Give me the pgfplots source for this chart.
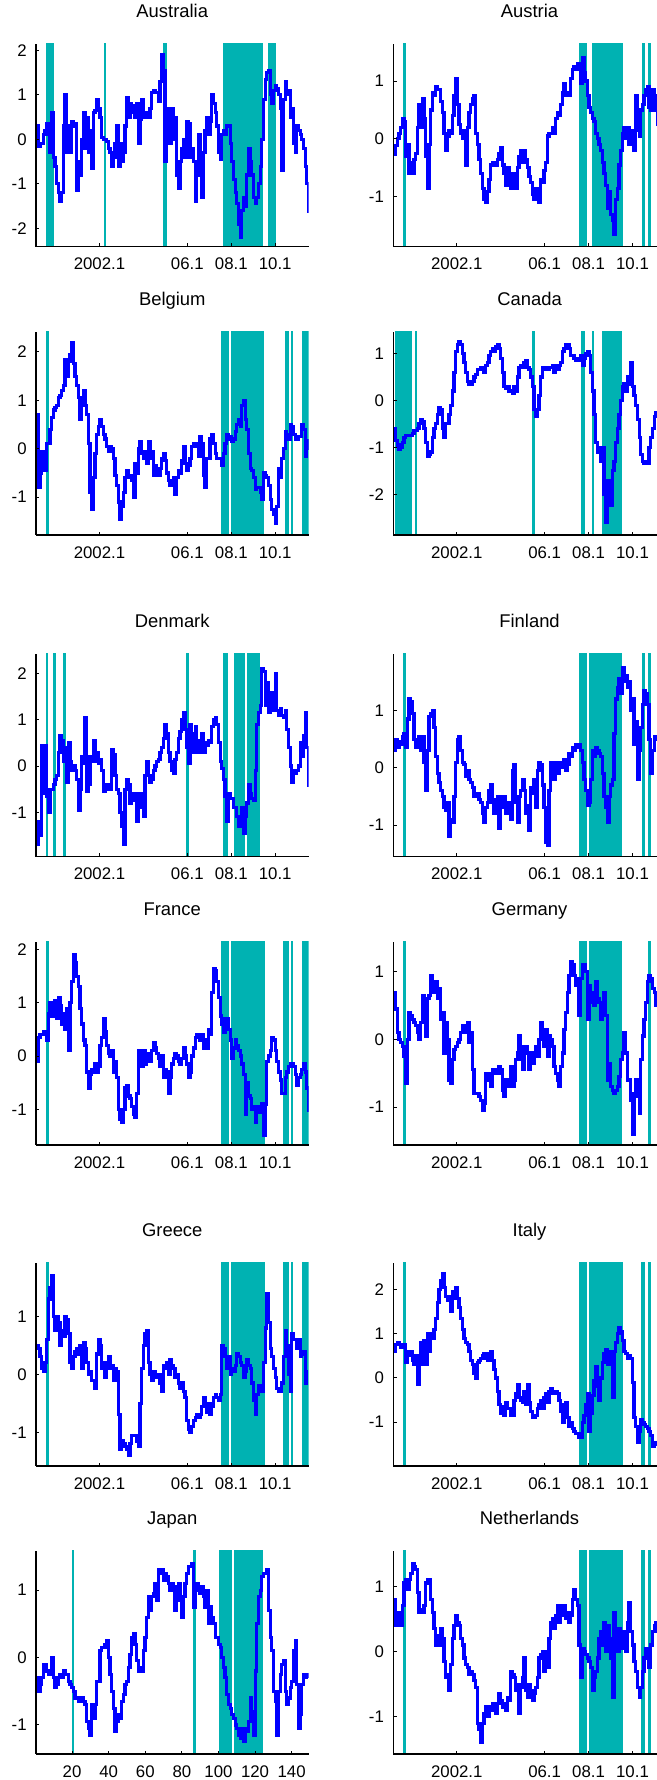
\documentclass[border=0pt]{standalone}
\usepackage{fontspec}
\setmainfont{Liberation Sans}
\usepackage{pgfplots}
\usepackage{pgfplotstable}
\pgfplotsset{compat=1.18}

\definecolor{bandc}{RGB}{0,178,178}
\definecolor{lineblue}{RGB}{0,0,255}

% Monthly index (m = 1 is 1999.3) and the standardised series for each country
\pgfplotstableread{
m aus aut bel can dnk fin fra deu grc ita jpn nld
0.66 0.3 -0.26 0.7 -0.6 -1.7 0.3 -0.1 0.7 0.5 0.6 -0.3 0.8
1.57 -0.15 -0.12 -0.8 -0.85 -1.2 0.5 0.35 0.45 0.45 0.75 -0.5 0.4
2.48 -0.1 0.0 -0.5 -0.95 -1.5 0.35 0.4 0.1 0.3 0.8 -0.4 0.6
3.39 -0.1 0.1 -0.05 -1.05 0.45 0.45 0.4 0.0 0.1 0.75 -0.3 0.4
4.30 0.1 0.2 -0.3 -1.0 -0.6 0.4 0.45 -0.05 0.05 0.7 -0.1 0.4
5.22 0.2 0.35 -0.45 -0.9 0.45 0.55 0.45 -0.1 0.2 0.7 -0.1 0.7
6.13 0.35 0.3 0.1 -0.8 -0.65 0.6 0.3 -0.25 0.6 0.75 -0.2 1.05
7.04 0.1 -0.3 0.1 -0.75 -1.0 0.35 0.8 -0.65 1.3 0.35 -0.25 1.1
7.95 -0.3 -0.1 0.4 -0.75 -0.5 0.85 1.0 0.0 1.5 0.6 -0.2 0.95
8.86 0.6 -0.6 0.65 -0.75 -0.5 1.2 0.75 0.4 1.7 0.5 0.0 1.1
9.77 -0.4 -0.4 0.8 -0.75 -0.4 1.15 0.8 0.35 1.0 0.6 -0.3 1.2
10.68 -0.6 -0.6 0.85 -0.7 -0.3 0.95 1.05 0.3 0.75 0.4 -0.45 1.35
11.59 -1.0 -0.35 0.9 -0.65 -0.2 0.5 0.7 0.25 1.0 0.3 -0.4 1.3
12.50 -1.2 -0.25 1.05 -0.65 0.3 0.35 1.1 0.2 0.9 0.5 -0.3 1.25
13.41 -1.4 0.2 1.1 -0.6 0.65 0.45 0.95 0.1 0.5 -0.15 -0.25 0.9
14.33 -1.2 0.6 1.2 -0.5 0.55 0.55 0.6 0.0 0.75 0.5 -0.3 0.6
15.24 0.3 0.2 1.3 -0.4 0.1 0.3 0.8 0.25 0.65 0.8 -0.2 0.65
16.15 1.0 0.7 1.85 -0.45 0.4 0.55 0.5 0.65 1.0 0.3 -0.25 0.6
17.06 -0.3 0.35 1.5 -0.6 -0.35 0.1 0.9 0.4 0.95 0.85 -0.25 0.7
17.97 0.3 -0.3 1.8 -0.9 0.5 -0.4 0.1 0.05 0.7 0.3 -0.35 1.05
18.88 -0.3 -0.85 1.95 -1.2 0.1 0.3 1.0 0.6 0.2 1.0 -0.4 1.1
19.79 0.4 -0.1 2.2 -1.15 -0.1 0.9 1.4 0.65 0.1 0.6 -0.45 1.1
20.70 0.3 0.5 1.75 -1.1 0.0 0.95 1.9 0.95 0.3 1.0 -0.5 0.8
21.61 0.35 0.8 1.5 -0.8 -0.1 1.0 1.75 0.8 0.4 0.9 -0.6 0.6
22.52 -1.15 0.75 1.3 -0.6 -0.3 0.7 1.5 0.7 0.45 1.1 -0.6 0.35
23.44 -0.5 0.9 1.05 -0.5 -0.95 0.2 1.3 0.85 0.35 1.35 -0.65 0.1
24.35 -0.8 0.85 0.6 -0.3 -0.5 -0.1 0.9 0.6 0.5 1.7 -0.6 0.25
25.26 0.0 0.85 1.0 -0.15 0.2 -0.25 0.6 0.75 0.1 2.0 -0.6 0.1
26.17 0.6 0.65 1.2 -0.2 0.05 -0.4 0.3 0.3 0.55 2.2 -0.65 0.35
27.08 -0.2 0.45 0.9 -0.6 1.05 -0.5 0.2 0.4 0.45 2.35 -0.7 0.2
27.99 0.5 0.1 0.7 -0.8 -0.55 -0.7 -0.3 -0.2 0.2 2.05 -0.95 -0.15
28.90 -0.3 -0.2 0.1 -0.5 -0.4 -0.75 -0.6 0.25 0.0 1.85 -1.05 -0.4
29.81 0.2 0.05 -0.9 -0.5 0.2 -0.6 -0.35 0.0 0.05 1.75 -1.15 -0.35
30.72 -0.65 0.15 -1.25 -0.3 0.1 -1.2 -0.25 -0.6 -0.1 1.85 -0.7 -0.6
31.63 0.6 0.1 -0.6 -0.1 0.55 -0.9 -0.3 -0.65 -0.1 1.5 -0.9 -0.2
32.55 0.65 0.4 -0.1 0.2 0.1 -0.95 -0.15 -0.3 -0.25 1.95 -0.7 0.2
33.46 0.9 0.75 0.3 0.6 0.3 -0.5 -0.3 -0.15 0.35 1.8 -0.35 0.4
34.37 0.7 1.05 0.45 1.05 0.05 0.1 -0.2 -0.1 0.6 2.05 -0.35 0.55
35.28 0.5 0.6 0.6 1.2 0.15 0.5 0.2 -0.05 0.5 1.8 0.1 0.45
36.19 0.05 0.25 0.45 1.25 -0.1 0.55 0.35 0.0 0.1 1.6 0.15 0.4
37.10 0.0 0.1 0.3 1.2 -0.55 0.3 0.7 0.1 0.2 1.35 0.15 0.2
38.01 0.0 0.0 0.2 1.0 -0.5 0.1 0.45 0.2 -0.05 1.1 0.2 0.1
38.92 -0.05 0.15 0.05 0.8 -0.4 0.05 0.2 0.1 0.1 0.9 0.25 -0.1
39.83 -0.2 -0.45 -0.05 0.6 -0.5 -0.15 0.05 0.2 0.3 0.8 0.0 -0.2
40.74 -0.3 0.2 0.05 0.4 -0.5 -0.05 0.0 0.25 0.1 0.75 -0.25 -0.25
41.66 -0.6 0.45 0.0 0.35 0.35 -0.2 0.1 -0.05 0.15 0.6 -0.5 -0.35
42.57 -0.4 0.6 -0.2 0.35 0.25 -0.25 -0.3 0.1 -0.1 0.4 -0.75 -0.3
43.48 -0.1 0.7 -0.55 0.4 -0.2 -0.35 -0.1 -0.45 0.1 0.3 -1.1 -0.35
44.39 0.3 0.75 -0.75 0.5 -0.5 -0.5 -0.4 -0.8 0.05 0.1 -0.95 -0.45
45.30 -0.6 0.1 -1.1 0.55 -0.6 -0.5 -1.0 -0.8 -0.7 0.0 -0.85 -0.55
46.21 -0.1 -0.1 -1.45 0.65 -1.0 -0.45 -1.2 -0.8 -1.3 0.35 -0.9 -1.1
47.12 -0.5 -0.35 -1.2 0.65 -1.3 -0.55 -1.25 -0.85 -1.15 0.4 -0.65 -1.2
48.03 -0.3 -0.6 -0.9 0.7 -1.7 -0.6 -1.0 -0.9 -1.2 0.45 -0.55 -1.4
48.94 0.3 -0.85 -0.6 0.65 -0.5 -0.8 -0.6 -1.05 -1.25 0.5 -0.4 -1.1
49.85 0.95 -1.05 -0.45 0.6 -0.3 -0.95 -0.55 -0.95 -1.3 0.55 -0.35 -0.95
50.77 0.5 -1.1 -0.6 0.75 -0.4 -0.7 -0.75 -0.5 -1.4 0.45 -0.15 -0.85
51.68 0.8 -0.9 -0.55 0.8 -0.8 -0.6 -0.8 -0.6 -1.2 0.4 0.05 -1.0
52.59 0.6 -0.7 -0.65 0.95 -0.75 -0.4 -0.95 -0.5 -1.05 0.55 0.3 -0.85
53.50 0.75 -0.45 -1.0 1.05 -0.6 -0.3 -1.1 -0.7 -1.05 0.6 0.35 -0.9
54.41 0.5 -0.4 -0.3 1.1 -0.6 -0.6 -1.15 -0.45 -1.05 0.4 0.2 -0.8
55.32 0.8 -0.4 -0.5 1.05 -1.2 -0.8 -0.7 -0.5 -1.15 0.2 -0.05 -0.8
56.23 -0.1 -0.45 0.0 1.15 -0.8 -0.55 0.1 -0.45 -1.25 0.0 -0.2 -0.95
57.14 0.45 -0.35 0.15 1.2 -0.6 -0.5 0.1 -0.5 -0.5 -0.3 -0.15 -0.8
58.05 0.9 -0.25 -0.1 1.1 -0.9 -1.05 -0.2 -0.4 0.1 -0.6 -0.2 -0.65
58.96 0.5 -0.15 -0.2 0.9 -1.1 -0.5 0.1 -0.45 0.5 -0.8 0.1 -0.75
59.88 0.55 -0.45 -0.05 0.6 -0.2 -0.7 -0.15 -0.75 0.7 -0.65 0.3 -0.85
60.79 0.6 -0.6 -0.3 0.3 0.1 -0.5 0.05 -0.85 0.75 -0.85 0.6 -0.8
61.70 0.5 -0.8 0.15 0.25 -0.2 -0.8 0.05 -0.6 0.2 -0.55 0.9 -0.9
62.61 0.7 -0.5 -0.2 0.3 -0.35 -0.6 -0.1 -0.7 0.0 -0.7 0.7 -0.7
63.52 1.05 -0.7 -0.05 0.2 -0.3 -0.75 0.1 -0.6 -0.1 -0.7 0.9 -0.75
64.43 1.1 -0.85 -0.55 0.2 -0.1 -0.9 0.25 -0.4 0.05 -0.85 0.95 -0.3
65.34 1.05 -0.6 -0.35 0.15 0.0 -0.05 0.15 -0.7 0.0 -0.85 1.1 -0.35
66.25 1.05 -0.8 -0.55 0.3 0.1 0.05 0.05 -0.6 -0.05 -0.5 0.85 -0.4
67.16 0.85 -0.85 -0.55 0.2 0.15 -0.6 -0.05 -0.3 0.0 -0.35 1.3 -0.6
68.07 1.3 -0.5 -0.4 0.5 0.3 -0.95 -0.2 -0.2 -0.15 -0.15 1.25 -0.5
68.99 1.9 -0.3 -0.2 0.7 0.4 -0.5 0.0 0.05 -0.3 -0.45 1.3 -0.95
69.90 1.55 -0.2 -0.1 0.75 0.6 -0.4 -0.4 -0.3 0.15 -0.5 1.15 -0.55
70.81 -0.5 -0.4 -0.25 0.7 0.9 -0.2 -0.25 -0.45 0.1 -0.55 1.25 -0.4
71.72 0.5 -0.2 -0.5 0.8 0.7 -0.4 -0.3 -0.1 0.2 -0.3 1.2 -0.1
72.63 0.7 -0.35 -0.65 0.85 0.3 -0.8 -0.7 -0.1 0.0 -0.6 1.1 -0.6
73.54 -0.1 -0.5 -0.75 0.7 0.1 -0.65 -0.4 -0.2 0.25 -0.15 1.0 -0.7
74.45 0.7 -0.65 -0.7 0.65 -0.1 -1.1 -0.15 -0.45 0.15 -0.55 1.1 -0.5
75.36 0.0 -0.75 -0.6 0.5 -0.15 -0.35 -0.05 -0.2 0.1 -0.75 1.05 -0.6
76.27 0.5 -0.95 -0.95 0.3 0.15 -0.45 0.05 -0.35 -0.05 -0.9 0.7 -0.75
77.18 -0.8 -1.05 -0.6 -0.2 0.3 -0.2 0.0 -0.2 0.0 -0.9 0.9 -0.65
78.10 -1.1 -0.85 -0.45 -0.35 0.6 -0.7 -0.1 -0.1 -0.15 -0.85 1.1 -0.55
79.01 -0.5 -1.0 -0.5 -0.2 0.75 -0.05 -0.15 -0.25 -0.25 -0.7 0.85 -0.4
79.92 -0.2 -1.1 -0.25 0.1 1.0 0.1 -0.05 0.0 -0.15 -0.6 0.6 -0.1
80.83 0.0 -0.7 0.05 0.5 1.15 0.05 0.15 0.25 -0.3 -0.5 0.9 -0.05
81.74 -0.4 -0.75 -0.3 0.7 0.8 -0.3 0.0 0.1 -0.4 -0.7 1.1 0.0
82.65 0.4 -0.55 -0.45 0.7 0.4 -0.7 -0.15 -0.1 -0.8 -0.45 1.25 -0.3
83.56 0.35 -0.4 -0.35 0.65 0.05 -1.3 -0.4 0.15 -0.95 -0.35 1.35 0.0
84.47 -0.4 0.05 -0.2 0.65 0.9 -1.35 -0.3 -0.25 -1.0 -0.55 1.35 -0.25
85.38 -0.2 0.1 0.05 0.7 0.7 -0.4 0.0 0.05 -0.9 -0.3 1.4 0.2
86.29 -0.5 0.1 0.1 0.7 0.3 0.1 0.15 0.0 -0.8 -0.25 0.75 0.45
87.21 -1.4 0.2 0.1 0.75 0.85 -0.05 0.35 -0.1 -0.75 -0.35 1.1 0.5
88.12 -0.7 0.1 0.05 0.6 0.4 -0.2 0.4 -0.4 -0.7 -0.35 1.1 0.35
89.03 0.1 0.35 -0.15 0.75 0.3 0.1 0.35 -0.5 -0.75 -0.3 1.0 0.55
89.94 -0.8 0.45 0.25 0.65 0.55 -0.1 0.3 -0.6 -0.7 -0.35 0.95 0.7
90.85 -1.3 0.4 0.1 0.75 0.7 0.1 0.4 -0.7 -0.55 -0.5 1.05 0.45
91.76 -0.3 0.6 -0.55 0.8 0.3 0.05 0.15 -0.4 -0.4 -0.75 0.9 0.7
92.67 0.2 0.8 -0.8 1.05 0.5 0.0 0.3 -0.2 -0.5 -1.0 0.75 0.55
93.58 0.5 0.95 -0.2 1.1 0.45 0.15 0.15 0.15 -0.65 -0.6 1.0 0.7
94.49 0.1 0.75 -0.2 1.2 0.55 -0.05 0.5 0.4 -0.5 -0.55 0.5 0.5
95.40 0.4 0.8 0.2 1.2 0.5 0.05 0.4 0.7 -0.7 -0.9 0.75 0.6
96.32 1.0 0.75 0.3 1.1 0.85 0.25 1.2 0.95 -0.55 -1.1 0.6 0.45
97.23 0.8 1.05 0.1 0.95 1.0 0.2 1.65 1.15 -0.4 -1.0 0.5 0.55
98.14 0.6 1.2 -0.1 0.95 1.05 0.35 1.6 1.1 -0.35 -1.15 0.3 0.8
99.05 0.3 1.25 -0.2 0.9 0.9 0.3 1.4 0.95 -0.4 -1.2 0.3 0.95
99.96 -0.3 1.2 -0.2 0.85 0.5 0.4 1.1 0.8 -0.45 -1.25 0.2 0.8
100.87 -0.45 1.3 -0.2 0.9 0.1 0.35 0.75 0.9 -0.35 -1.25 0.15 0.7
101.78 0.1 1.3 -0.35 0.85 -0.05 0.4 0.6 0.35 0.5 -1.35 0.0 0.1
102.69 0.2 0.95 -0.1 0.95 -0.3 0.3 0.45 0.9 0.45 -1.35 -0.15 -0.4
103.60 0.1 1.4 0.1 0.75 -0.65 0.1 0.7 1.1 0.3 -1.0 -0.3 0.05
104.51 0.3 1.15 0.3 0.9 -1.2 -0.2 0.7 1.1 0.1 -0.85 -0.55 0.0
105.43 0.3 1.0 0.2 1.0 -0.6 -0.4 0.5 1.0 0.3 -0.6 -0.7 -0.05
106.34 -0.1 0.75 0.25 1.05 -0.7 -0.65 0.3 0.3 0.0 -0.35 -0.75 -0.1
107.25 -0.5 0.55 0.15 0.95 -0.7 -0.6 -0.05 0.8 0.1 -1.2 -0.85 -0.15
108.16 -0.9 0.45 0.2 0.6 -0.9 -0.2 0.15 0.55 0.05 -0.8 -0.9 -0.25
109.07 -1.2 0.35 0.35 0.2 -0.9 0.3 0.3 0.7 0.15 -0.4 -1.0 -0.6
109.98 -1.45 0.3 0.5 -0.3 -1.1 0.2 0.2 0.5 0.35 -0.05 -1.05 -0.4
110.89 -1.9 0.1 0.6 -0.9 -1.3 0.35 0.1 0.85 0.3 0.25 -1.15 -0.3
111.80 -2.2 0.0 0.45 -1.1 -1.1 0.3 0.0 0.6 0.2 -0.2 -1.2 -0.1
112.71 -1.6 -0.1 0.9 -1.0 -0.9 0.25 -0.15 0.55 0.15 -0.5 -1.05 0.2
113.62 -1.3 -0.2 1.0 -1.3 -1.45 0.2 -0.35 0.3 -0.05 0.0 -1.25 0.3
114.54 -1.5 -0.4 0.6 -1.0 -1.1 -0.1 -1.1 0.5 0.05 0.35 -1.05 0.1
115.45 -0.8 -0.6 0.4 -2.0 -0.8 -0.5 -0.5 0.7 0.25 0.55 -1.1 0.45
116.36 -0.2 -0.8 -0.1 -2.6 -0.4 -0.7 -0.75 0.35 0.15 0.65 -0.95 0.0
117.27 -0.5 -1.2 -0.4 -1.7 -0.6 -0.95 -0.8 -0.6 0.1 0.3 -0.6 0.4
118.18 -0.8 -0.9 -0.45 -2.1 -0.7 -0.5 -1.0 -0.35 -0.15 0.6 -0.8 0.2
119.09 -1.3 -1.3 -0.6 -2.25 -0.75 -0.3 -0.95 -0.7 -0.45 0.3 -1.15 -0.1
120.00 -1.45 -1.4 -0.85 -1.5 -0.1 -0.2 -1.25 -0.75 -0.7 -0.45 -0.2 -0.7
120.91 -1.3 -1.65 -0.8 -1.3 0.9 0.6 -1.05 -0.8 -0.35 0.6 0.5 0.6
121.82 -1.0 -1.05 -0.8 -0.9 1.15 1.2 -0.95 -0.75 -0.2 0.8 0.9 0.2
122.73 -0.6 -0.85 -0.9 -0.6 1.3 1.4 -1.05 -0.7 -0.25 1.0 1.0 0.0
123.65 0.0 -0.45 -1.05 -0.3 2.1 1.55 -0.9 -0.55 -0.3 1.15 1.2 0.35
124.56 0.9 -0.2 -0.5 0.0 2.05 1.3 -1.5 -0.3 0.2 1.05 1.25 0.05
125.47 1.35 0.1 -0.55 0.3 1.3 1.75 -0.9 -0.2 0.8 0.85 1.25 0.3
126.38 1.5 0.2 -0.6 0.35 1.8 1.5 -0.1 0.1 1.4 0.6 1.3 0.05
127.29 1.55 0.0 -0.75 0.2 1.15 1.6 0.0 -0.2 0.9 0.55 0.7 0.0
128.20 1.0 0.2 -1.05 0.5 1.2 1.4 0.1 -0.6 0.45 0.45 0.3 0.45
129.11 0.8 -0.1 -1.25 0.35 1.6 1.5 0.35 -0.6 0.3 0.5 0.1 0.75
130.02 1.1 0.15 -1.35 0.8 1.2 1.0 0.3 -0.9 0.1 0.45 -0.5 0.3
130.93 1.2 -0.05 -1.55 0.3 2.0 1.2 0.1 -1.4 -0.05 -0.1 -0.65 0.1
131.84 1.15 -0.2 -1.2 0.1 1.2 0.4 -0.1 -0.8 -0.25 -0.9 -1.15 -0.15
132.76 1.0 0.75 -0.4 -0.1 1.1 0.8 -0.3 -0.6 -0.3 -1.1 -0.5 -0.3
133.67 0.7 0.15 -0.6 -0.4 1.25 -0.2 -0.45 -0.85 -0.3 -1.45 -0.25 -0.55
134.58 -0.7 0.05 -0.2 -0.8 1.1 0.3 -0.7 -1.1 -0.15 -1.2 -0.1 -0.7
135.49 0.9 0.5 0.0 -1.15 1.05 0.7 -0.7 -0.3 0.3 -0.95 -0.05 -0.55
136.40 1.3 0.6 0.35 -1.3 1.2 1.1 -0.4 0.05 0.75 -1.0 -0.5 -0.3
137.31 1.0 0.75 0.3 -1.35 0.8 1.35 -0.3 0.3 0.5 -1.05 -0.7 -0.1
138.22 1.1 0.85 0.2 -1.3 0.4 1.3 -0.2 0.55 0.0 -1.1 -0.6 0.05
139.13 0.5 0.9 0.5 -1.35 0.0 1.1 -0.15 0.85 -0.3 -1.15 -0.45 0.0
140.04 0.7 0.55 0.45 -1.0 -0.35 0.5 -0.15 0.95 0.7 -1.2 -0.35 -0.25
140.95 -0.1 0.5 0.3 -0.8 -0.1 -0.1 -0.2 0.9 0.6 -1.3 0.1 0.1
141.87 -0.3 0.85 0.2 -0.6 -0.15 0.3 -0.35 0.75 0.6 -1.55 0.25 0.3
142.78 0.3 0.75 0.2 -0.35 -0.1 0.55 -0.55 0.7 0.45 -1.5 -0.4 0.4
143.69 0.2 0.5 0.25 -0.25 0.0 0.55 -0.4 0.5 0.6 -1.45 -1.05 0.45
144.60 0.1 0.25 0.25 -0.25 0.5 0.5 -0.35 0.5 0.3 -1.45 -0.85 0.3
145.51 0.0 0.4 0.5 -0.2 0.2 0.45 -0.25 0.55 0.35 -1.4 -0.4 0.35
146.42 -0.2 0.5 0.4 -0.1 0.65 0.5 -0.15 0.6 0.4 -1.3 -0.25 0.4
147.33 -0.6 0.3 -0.15 0.0 1.15 0.6 -0.3 0.5 -0.15 -1.2 -0.3 0.3
148.24 -1.0 0.2 0.0 0.1 0.4 0.55 -0.6 0.4 0.05 -1.25 -0.25 0.2
149.15 -1.65 0.3 0.2 0.0 -0.45 0.5 -1.05 0.45 0.05 -1.1 -0.3 0.25
}\idx

\pgfplotsset{
  panel/.style={
    scale only axis, width=136.25pt, height=101.5pt,
    anchor=south west,
    xmin=0.3, xmax=149.2,
    axis x line*=bottom, axis y line*=left,
    axis line style={-, line width=0.6pt, black},
    tick align=inside, major tick length=1.6pt,
    tick style={line width=0.5pt, black},
    xtick={35,83,107,131}, xticklabels={2002.1,06.1,08.1,10.1},
    ticklabel style={font=\fontsize{8.4}{10}\selectfont},
    xticklabel style={anchor=base, inner sep=0pt, yshift=-11.6pt},
    yticklabel style={anchor=east, inner sep=0pt, xshift=-4.5pt},
    title style={font=\fontsize{9.2}{11}\selectfont, anchor=base,
                 at={(0.5,1)}, yshift=7.15pt, inner sep=0pt},
    axis on top, clip=true,
  },
  series/.style={color=lineblue, line width=1.55pt, mark=none, const plot},
  band/.style={fill=bandc, draw=none, forget plot},
}
% one shaded episode between two month indices
\newcommand{\band}[2]{\addplot[band] coordinates {(#1,-9) (#2,-9) (#2,9) (#1,9)};}

\begin{document}
\begin{tikzpicture}

% ---- row 1
\begin{axis}[panel, at={(18pt,766.65pt)}, title={Australia},
  ymin=-2.41, ymax=2.15, ytick={-2,-1,0,1,2}, yticklabels={-2,-1,0,1,2}]
  \band{5.6}{10.1}\band{37.5}{38.8}\band{69.7}{71.9}\band{102.4}{124.2}\band{127.0}{131.3}
  \addplot[series] table[x=m, y=aus] {\idx};
\end{axis}
\begin{axis}[panel, at={(196.65pt,766.65pt)}, title={Austria},
  ymin=-1.86, ymax=1.645, ytick={-1,0,1}, yticklabels={-1,0,1}]
  \band{5.8}{7.2}\band{101.6}{106.0}\band{108.6}{125.7}\band{136.3}{138.1}\band{139.2}{141.0}
  \addplot[series] table[x=m, y=aut] {\idx};
\end{axis}

% ---- row 2
\begin{axis}[panel, at={(18pt,622.5pt)}, title={Belgium},
  ymin=-1.78, ymax=2.41, ytick={-1,0,1,2}, yticklabels={-1,0,1,2}]
  \band{5.6}{7.2}\band{101.4}{106.0}\band{107.1}{125.0}\band{136.1}{138.4}\band{139.4}{140.8}\band{145.6}{149.7}
  \addplot[series] table[x=m, y=bel] {\idx};
\end{axis}
\begin{axis}[panel, at={(196.65pt,622.5pt)}, title={Canada},
  ymin=-2.87, ymax=1.46, ytick={-2,-1,0,1}, yticklabels={-2,-1,0,1}]
  \band{1.4}{10.3}\band{12.1}{13.4}\band{76.3}{77.6}\band{102.9}{105.3}\band{108.6}{110.0}\band{114.2}{125.1}
  \addplot[series] table[x=m, y=can] {\idx};
\end{axis}

% ---- row 3
\begin{axis}[panel, at={(18pt,461.65pt)}, title={Denmark},
  ymin=-1.96, ymax=2.43, ytick={-1,0,1,2}, yticklabels={-1,0,1,2}]
  \band{5.6}{7.0}\band{9.6}{11.1}\band{15.1}{16.7}\band{82.5}{84.0}\band{102.7}{105.3}\band{108.6}{114.6}\band{115.7}{122.6}
  \addplot[series] table[x=m, y=dnk] {\idx};
\end{axis}
\begin{axis}[panel, at={(196.65pt,461.65pt)}, title={Finland},
  ymin=-1.55, ymax=1.99, ytick={-1,0,1}, yticklabels={-1,0,1}]
  \band{5.8}{7.2}\band{101.6}{106.0}\band{107.1}{125.1}\band{136.3}{138.1}\band{139.2}{141.0}
  \addplot[series] table[x=m, y=fin] {\idx};
\end{axis}

% ---- row 4
\begin{axis}[panel, at={(18pt,317.5pt)}, title={France},
  ymin=-1.67, ymax=2.14, ytick={-1,0,1,2}, yticklabels={-1,0,1,2}]
  \band{5.6}{7.2}\band{101.4}{106.0}\band{107.1}{125.7}\band{135.3}{138.4}\band{139.4}{140.8}\band{145.6}{149.7}
  \addplot[series] table[x=m, y=fra] {\idx};
\end{axis}
\begin{axis}[panel, at={(196.65pt,317.5pt)}, title={Germany},
  ymin=-1.56, ymax=1.44, ytick={-1,0,1}, yticklabels={-1,0,1}]
  \band{5.8}{7.2}\band{101.6}{106.0}\band{107.1}{125.1}\band{139.4}{141.0}
  \addplot[series] table[x=m, y=deu] {\idx};
\end{axis}

% ---- row 5
\begin{axis}[panel, at={(18pt,157pt)}, title={Greece},
  ymin=-1.58, ymax=1.92, ytick={-1,0,1}, yticklabels={-1,0,1}]
  \band{5.6}{7.2}\band{101.4}{106.0}\band{107.1}{125.7}\band{135.3}{138.4}\band{139.4}{140.8}\band{145.6}{149.7}
  \addplot[series] table[x=m, y=grc] {\idx};
\end{axis}
\begin{axis}[panel, at={(196.65pt,157pt)}, title={Italy},
  ymin=-1.99, ymax=2.6, ytick={-1,0,1,2}, yticklabels={-1,0,1,2}]
  \band{5.8}{7.2}\band{101.6}{106.0}\band{107.1}{125.7}\band{135.5}{138.1}\band{139.2}{141.0}
  \addplot[series] table[x=m, y=ita] {\idx};
\end{axis}

% ---- row 6
\begin{axis}[panel, at={(18pt,13pt)}, title={Japan},
  ymin=-1.43, ymax=1.58, ytick={-1,0,1}, yticklabels={-1,0,1},
  xtick={20,40,60,80,100,120,140}, xticklabels={20,40,60,80,100,120,140}]
  \band{19.8}{21.1}\band{86.3}{87.8}\band{100.5}{107.6}\band{108.6}{124.2}
  \addplot[series] table[x=m, y=jpn] {\idx};
\end{axis}
\begin{axis}[panel, at={(196.65pt,13pt)}, title={Netherlands},
  ymin=-1.57, ymax=1.54, ytick={-1,0,1}, yticklabels={-1,0,1}]
  \band{5.8}{7.2}\band{101.6}{106.0}\band{107.1}{125.7}\band{135.5}{138.1}\band{139.2}{141.0}
  \addplot[series] table[x=m, y=nld] {\idx};
\end{axis}

\pgfresetboundingbox
\path[use as bounding box] (0,0) rectangle (328.5pt,890pt);
\end{tikzpicture}
\end{document}
